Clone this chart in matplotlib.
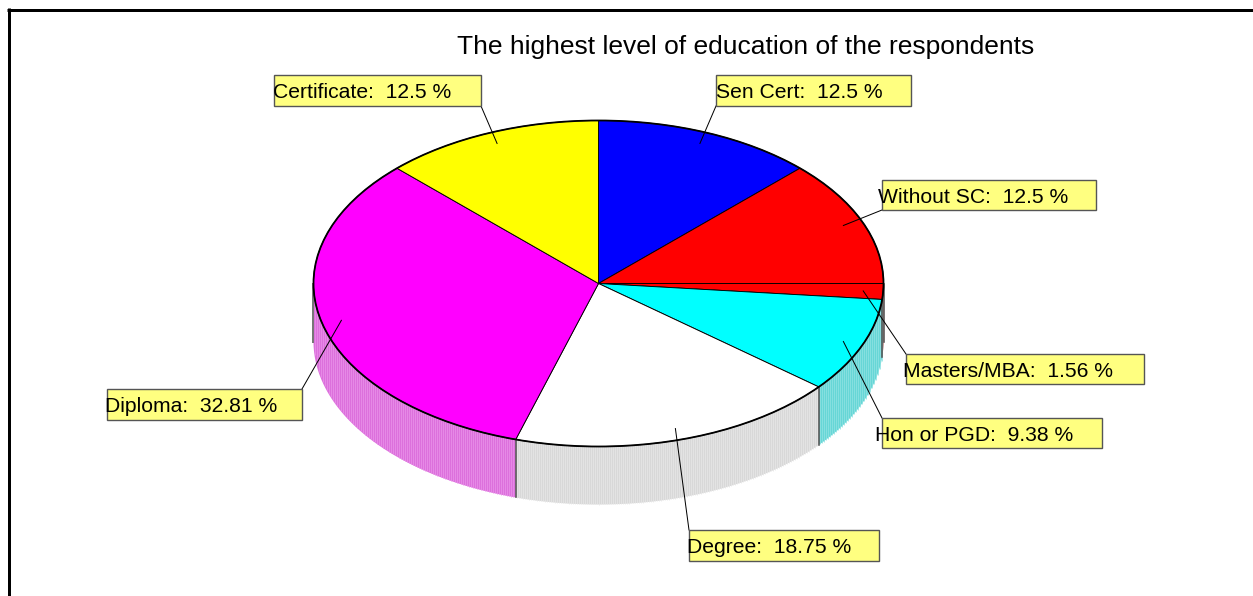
import numpy as np
import matplotlib
matplotlib.use("Agg")
import matplotlib.pyplot as plt
from matplotlib.patches import Polygon, Rectangle, Ellipse
from matplotlib.collections import LineCollection

plt.rcParams["font.family"] = ["Liberation Sans", "DejaVu Sans"]

# Survey shares, clockwise from 12 o'clock
categories = ["Sen Cert", "Without SC", "Masters/MBA", "Hon or PGD",
              "Degree", "Diploma", "Certificate"]
percent = [12.5, 12.5, 1.56, 9.38, 18.75, 32.81, 12.5]
title = "The highest level of education of the respondents"

top_colors = ["#0000ff", "#ff0000", "#ff0000", "#00ffff",
              "#ffffff", "#ff00ff", "#ffff00"]
side_colors = ["#0000b0", "#c00000", "#8a3030", "#66d6d6",
               "#d8d8d8", "#dc70dc", "#c8c800"]
stripe_colors = ["#2020c0", "#d02020", "#8a3030", "#8ee2e2",
                 "#e6e6e6", "#e990e9", "#d8d800"]

# label boxes in pixels: text x, box left, top, right, bottom, leader corner
label_boxes = [
    (716, 716, 75, 911, 106, "bl"),
    (878, 882, 180, 1096, 210, "bl"),
    (903, 906, 354, 1144, 384, "tl"),
    (875, 882, 418, 1102, 448, "tl"),
    (687, 689, 530, 879, 561, "tl"),
    (105, 107, 389, 302, 420, "tr"),
    (273, 274, 75, 481, 106, "br"),
]

W, H, DPI = 1253, 596, 100
cx, cy, rx, ry, depth = 598.5, 283.5, 285.0, 163.0, 58.0
PX = 72.0 / DPI


def rim(theta_deg):
    t = np.radians(theta_deg)
    return cx + rx * np.sin(t), cy - ry * np.cos(t)


fig = plt.figure(figsize=(W / DPI, H / DPI), dpi=DPI)
ax = fig.add_axes([0, 0, 1, 1])
ax.set_xlim(0, W)
ax.set_ylim(H, 0)
ax.axis("off")

bounds = np.concatenate([[0.0], np.cumsum(percent)]) / 100.0 * 360.0

# side wall of the front half (90..270 degrees clockwise from top)
for i in range(len(percent)):
    a0, a1 = max(bounds[i], 90.0), min(bounds[i + 1], 270.0)
    if a1 <= a0:
        continue
    th = np.linspace(a0, a1, 200)
    xt, yt = rim(th)
    pts = np.column_stack([np.r_[xt, xt[::-1]], np.r_[yt, yt[::-1] + depth]])
    ax.add_patch(Polygon(pts, closed=True, facecolor=side_colors[i],
                         edgecolor="none", zorder=1))
    xs = np.arange(np.ceil(xt.min()), np.floor(xt.max()), 2.0) + 0.5
    if len(xs):
        ytop = cy + ry * np.sqrt(np.clip(1 - ((xs - cx) / rx) ** 2, 0, 1))
        segs = [[(x, y), (x, y + depth)] for x, y in zip(xs, ytop)]
        ax.add_collection(LineCollection(segs, colors=stripe_colors[i],
                                         linewidths=0.8 * PX, zorder=1.5))

# dark seams where slices meet on the side wall
for b in bounds:
    if 90.0 <= b <= 270.0:
        x, y = rim(b)
        ax.plot([x, x], [y, y + depth], color="#555555",
                lw=1.6 * PX, zorder=2)
x, y = rim(270.0)
ax.plot([x - 0.5, x - 0.5], [y, y + depth], color="#777777", lw=2 * PX, zorder=2)

# top face
for i in range(len(percent)):
    th = np.linspace(bounds[i], bounds[i + 1], 120)
    xt, yt = rim(th)
    pts = np.column_stack([np.r_[cx, xt], np.r_[cy, yt]])
    ax.add_patch(Polygon(pts, closed=True, facecolor=top_colors[i],
                         edgecolor="black", lw=0.9 * PX, zorder=3))
ax.add_patch(Ellipse((cx, cy), 2 * rx, 2 * ry, facecolor="none",
                     edgecolor="black", lw=1.8 * PX, zorder=4))

# leader lines, boxes and texts
for i, name in enumerate(categories):
    tx, l, t, r, b, corner = label_boxes[i]
    mid = 0.5 * (bounds[i] + bounds[i + 1])
    px = cx + 0.93 * rx * np.sin(np.radians(mid))
    py = cy - 0.93 * ry * np.cos(np.radians(mid))
    ex = l if corner[1] == "l" else r
    ey = t if corner[0] == "t" else b
    ax.plot([px, ex], [py, ey], color="black", lw=1.0 * PX, zorder=5)
    ax.add_patch(Rectangle((l, t), r - l, b - t, facecolor="#ffff80",
                           edgecolor="#555555", lw=1.4 * PX, zorder=6))
    ax.text(tx, 0.5 * (t + b) + 7.6, f"{name}:  {percent[i]:g} %",
            fontsize=15.2, color="black", ha="left", va="baseline", zorder=7)

ax.text(746, 54, title, fontsize=19, ha="center", va="baseline", zorder=7)

# outer frame (top and left edges)
ax.plot([7, W], [9.5, 9.5], color="black", lw=3 * PX, solid_capstyle="butt", zorder=8)
ax.plot([8.5, 8.5], [8, H], color="black", lw=3 * PX, solid_capstyle="butt", zorder=8)

fig.savefig("out.png", dpi=DPI)
